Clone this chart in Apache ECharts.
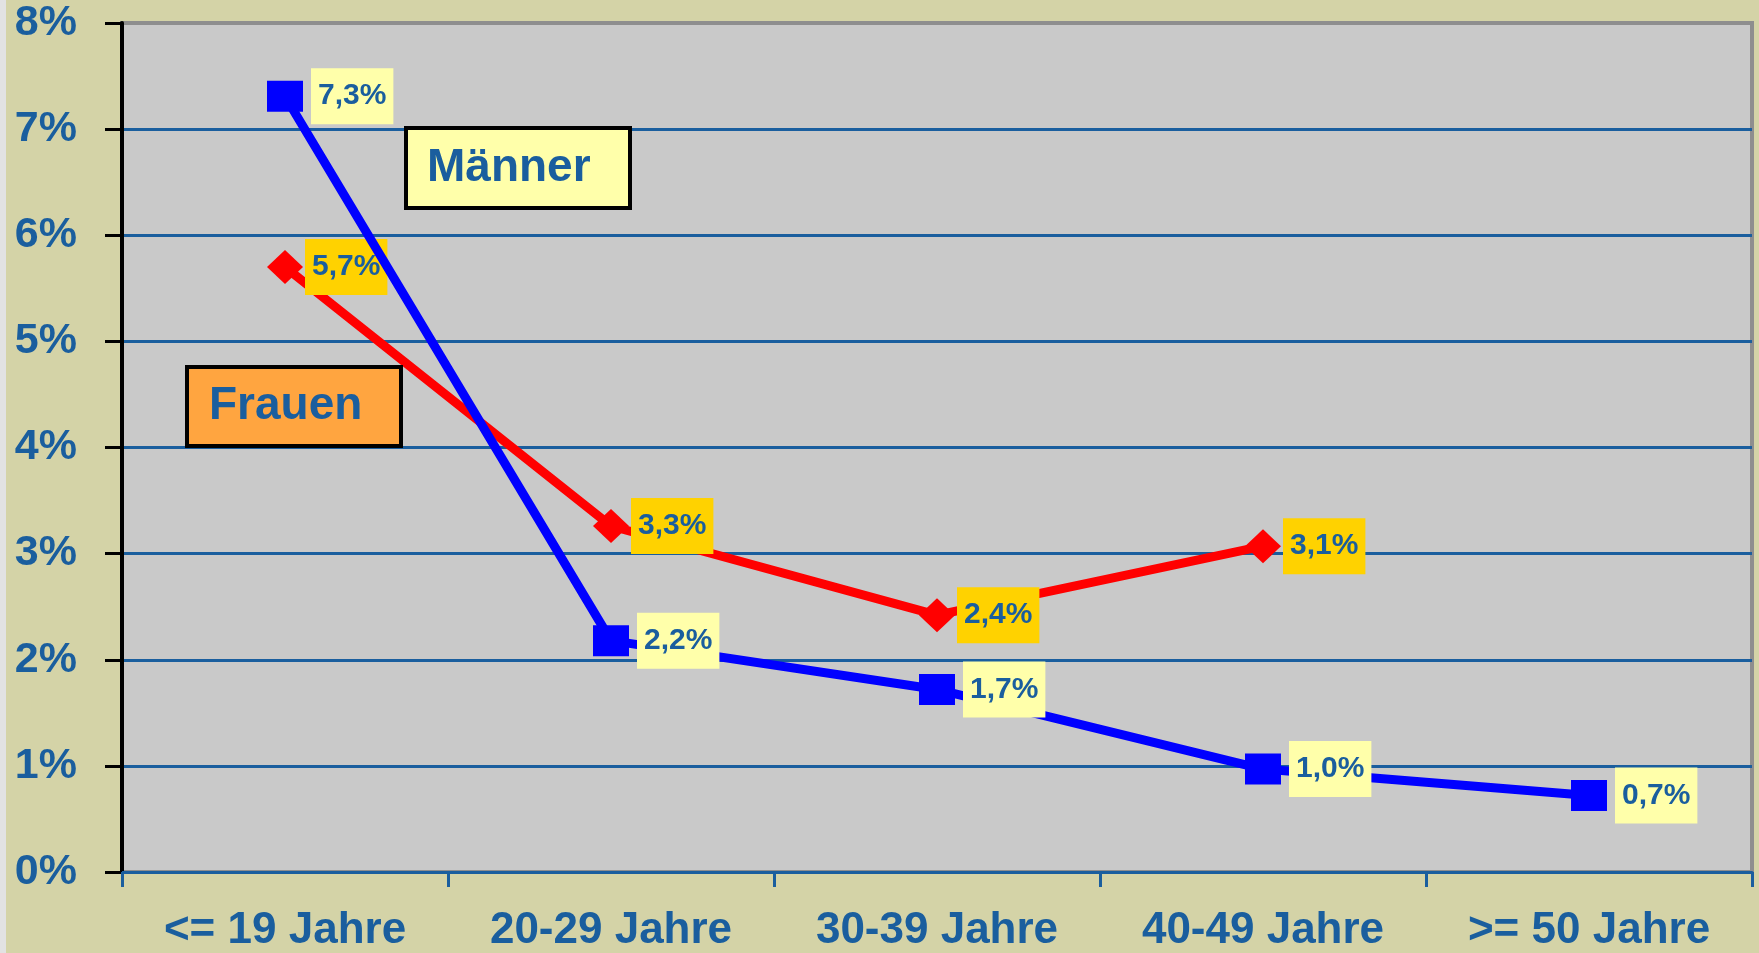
<!DOCTYPE html>
<html>
<head>
<meta charset="utf-8">
<script src="https://cdn.jsdelivr.net/npm/echarts@6/dist/echarts.min.js"></script>
<style>
html,body{margin:0;padding:0;background:#D4D3A7;}
#chart{width:1759px;height:953px;}
</style>
</head>
<body>
<div id="chart"></div>
<script>
var categories = ['<= 19 Jahre', '20-29 Jahre', '30-39 Jahre', '40-49 Jahre', '>= 50 Jahre'];
var maenner = [7.31, 2.18, 1.72, 0.97, 0.72];
var frauen = [5.70, 3.26, 2.42, 3.07, null];
var seriesNames = ['Männer', 'Frauen'];
var yTicks = [0, 1, 2, 3, 4, 5, 6, 7, 8];

var FONT = '"Liberation Sans", Arial, sans-serif';
var TEXT_BLUE = '#1A5E9E';

function fmt(p) {
  return p.value.toFixed(1).replace('.', ',') + '%';
}

var chart = echarts.init(document.getElementById('chart'));
chart.setOption({
  backgroundColor: '#D4D3A7',
  animation: false,
  grid: {
    left: 122, right: 7, top: 23, bottom: 80,
    show: true,
    backgroundColor: '#C9C9C9',
    borderColor: '#8E8E8E',
    borderWidth: 4
  },
  xAxis: {
    type: 'category',
    data: categories,
    boundaryGap: true,
    axisLine: { lineStyle: { color: '#1A5E9E', width: 3 } },
    axisTick: { show: true, length: 15, lineStyle: { color: '#1A5E9E', width: 3 } },
    axisLabel: {
      color: TEXT_BLUE, fontFamily: FONT, fontWeight: 'bold', fontSize: 44,
      lineHeight: 44, margin: 37, interval: 0
    },
    splitLine: { show: false }
  },
  yAxis: {
    type: 'value',
    min: yTicks[0], max: yTicks[yTicks.length - 1], interval: 1,
    axisLine: { show: true, lineStyle: { color: '#000', width: 4 } },
    axisTick: { show: true, length: 17, lineStyle: { color: '#000', width: 3 } },
    axisLabel: {
      color: TEXT_BLUE, fontFamily: FONT, fontWeight: 'bold', fontSize: 43,
      margin: 45,
      formatter: function (v) { return v + '%'; }
    },
    splitLine: { show: true, showMaxLine: false, showMinLine: false, lineStyle: { color: '#1A5E9E', width: 3 } }
  },
  series: [
    {
      name: seriesNames[1],
      type: 'line',
      data: frauen,
      connectNulls: false,
      symbol: 'diamond',
      symbolSize: [36, 34],
      lineStyle: { color: '#FF0000', width: 9 },
      itemStyle: { color: '#FF0000' },
      z: 3,
      label: {
        show: true, position: 'right', distance: 2,
        formatter: fmt,
        color: TEXT_BLUE, fontFamily: FONT, fontWeight: 'bold', fontSize: 30,
        lineHeight: 30,
        backgroundColor: '#FFD200', padding: [13, 7]
      }
    },
    {
      name: seriesNames[0],
      type: 'line',
      data: maenner,
      symbol: 'rect',
      symbolSize: [36, 31],
      lineStyle: { color: '#0000FF', width: 9 },
      itemStyle: { color: '#0000FF' },
      z: 4,
      label: {
        show: true, position: 'right', distance: 8,
        formatter: fmt,
        color: TEXT_BLUE, fontFamily: FONT, fontWeight: 'bold', fontSize: 30,
        lineHeight: 30,
        backgroundColor: '#FFFFAA', padding: [13, 7]
      }
    }
  ],
  graphic: [
    { type: 'rect', z: 100, shape: { x: 0, y: 0, width: 6, height: 953 }, style: { fill: '#E2E2E2' } },
    { type: 'rect', z: 100, shape: { x: 406, y: 128, width: 224, height: 80 },
      style: { fill: '#FFFFAA', stroke: '#000', lineWidth: 4 } },
    { type: 'text', z: 101, x: 427, y: 168,
      style: { text: seriesNames[0], font: 'bold 46px ' + FONT, fill: TEXT_BLUE, verticalAlign: 'middle', align: 'left' } },
    { type: 'rect', z: 100, shape: { x: 187, y: 367, width: 214, height: 79 },
      style: { fill: '#FFA540', stroke: '#000', lineWidth: 4 } },
    { type: 'text', z: 101, x: 209, y: 406,
      style: { text: seriesNames[1], font: 'bold 46px ' + FONT, fill: TEXT_BLUE, verticalAlign: 'middle', align: 'left' } }
  ]
});
</script>
</body>
</html>
